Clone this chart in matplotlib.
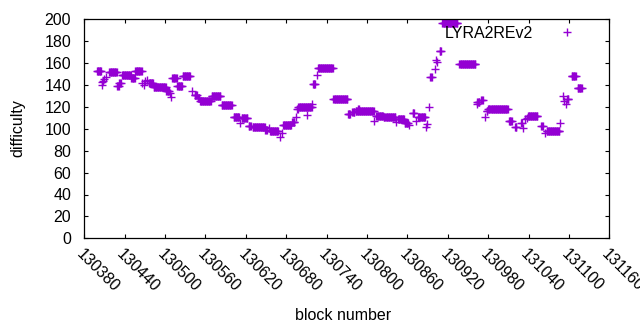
import numpy as np
import matplotlib
matplotlib.use('Agg')
import matplotlib.pyplot as plt

plt.rcParams['font.family'] = ['Liberation Sans', 'DejaVu Sans']

# Runs of constant difficulty: first block, last block, difficulty
run_start = [130399, 130406, 130407, 130408, 130410, 130412, 130417, 130429, 130432, 130436,
             130450, 130456, 130466, 130468, 130470, 130473, 130476, 130483, 130502, 130507,
             130509, 130511, 130518, 130526, 130540, 130544, 130549, 130552, 130569, 130584,
             130602, 130612, 130614, 130624, 130630, 130649, 130655, 130656, 130671, 130673,
             130675, 130689, 130694, 130696, 130698, 130711, 130719, 130720, 130725, 130727,
             130750, 130772, 130778, 130783, 130787, 130811, 130814, 130825, 130843, 130846,
             130856, 130863, 130868, 130873, 130876, 130887, 130889, 130892, 130894, 130901,
             130903, 130904, 130908, 130912, 130937, 130963, 130964, 130970, 130975, 130978,
             130980, 131011, 131020, 131029, 131032, 131035, 131037, 131039, 131059, 131064,
             131067, 131087, 131091, 131093, 131095, 131097, 131104, 131113]
run_end = [130405, 130406, 130407, 130408, 130410, 130412, 130428, 130431, 130434, 130449,
           130455, 130465, 130466, 130468, 130470, 130473, 130482, 130501, 130506, 130507,
           130509, 130517, 130525, 130537, 130540, 130547, 130551, 130568, 130582, 130599,
           130610, 130612, 130622, 130627, 130648, 130651, 130655, 130668, 130671, 130673,
           130687, 130692, 130694, 130697, 130718, 130711, 130719, 130723, 130725, 130749,
           130771, 130775, 130781, 130810, 130788, 130811, 130824, 130842, 130843, 130855,
           130861, 130863, 130870, 130873, 130886, 130887, 130889, 130892, 130896, 130901,
           130903, 130904, 130910, 130934, 130961, 130963, 130967, 130972, 130975, 130979,
           131009, 131015, 131022, 131030, 131032, 131035, 131037, 131053, 131061, 131064,
           131086, 131087, 131091, 131093, 131095, 131099, 131110, 131119]
run_value = [153, 140, 143, 144, 145.5, 147, 151.5, 139.5, 142, 148.8,
             146, 152.5, 142, 140, 143.5, 145, 141.5, 137.9, 134.5, 133,
             129, 146.4, 139, 148, 134.2, 130.5, 128, 125.7, 130, 121.5,
             110.5, 105.6, 109.6, 102.8, 101.4, 99, 101, 97.7, 92.2, 95.9,
             103.3, 106, 111, 118, 120, 112.6, 123, 140.8, 149, 155.2,
             127, 113.5, 115.3, 116.3, 118, 107.4, 111.4, 110.5, 106.5, 108.7,
             105, 103.5, 114.2, 107, 110.5, 102, 104, 120.2, 147, 154.5,
             163, 161, 171, 197, 159, 123, 124.5, 126.5, 111, 116,
             118, 107, 102, 105.5, 101, 108.5, 110, 111.3, 103, 96,
             97.7, 105, 130, 125, 123, 127, 148, 137]

x_ticks = list(range(130380, 131161, 60))
y_ticks = list(range(0, 201, 20))

blocks, diffs = [], []
for s, e, v in zip(run_start, run_end, run_value):
    for b in range(s, e + 1):
        blocks.append(b)
        diffs.append(v)

FS = 11.5
fig = plt.figure(figsize=(6.4, 3.3), dpi=100)
ax = fig.add_axes([84.3 / 640, 1 - 238.3 / 330, 525 / 640, 219 / 330])

ax.plot(blocks, diffs, '+', color='#9400D3', ms=6, mew=1.0, label='LYRA2REv2')

ax.set_xlim(130380, 131160)
ax.set_ylim(0, 200)
ax.set_xticks(x_ticks)
ax.set_yticks(y_ticks)
ax.set_xticklabels([str(t) for t in x_ticks], rotation=-45, ha='left', va='top',
                   rotation_mode='anchor')
ax.tick_params(direction='in', length=3, width=0.8, top=True, right=True,
               labelsize=FS, colors='black')
ax.tick_params(axis='y', pad=9.5)
ax.tick_params(axis='x', pad=6)
for sp in ax.spines.values():
    sp.set_linewidth(0.9)

ax.set_xlabel('block number', fontsize=FS)
ax.set_ylabel('difficulty', fontsize=FS)
ax.xaxis.label.set_va('center')
ax.yaxis.label.set_va('center')
ax.xaxis.set_label_coords(343 / 640, 1 - 315 / 330, transform=fig.transFigure)
ax.yaxis.set_label_coords(18 / 640, 1 - 128 / 330, transform=fig.transFigure)

ax.legend(loc='center right', bbox_to_anchor=(583 / 640, 1 - 33 / 330),
          bbox_transform=fig.transFigure, frameon=False, markerfirst=False,
          borderpad=0, borderaxespad=0, handlelength=2, handletextpad=1.1,
          fontsize=FS)

fig.savefig('out.png', dpi=100)
